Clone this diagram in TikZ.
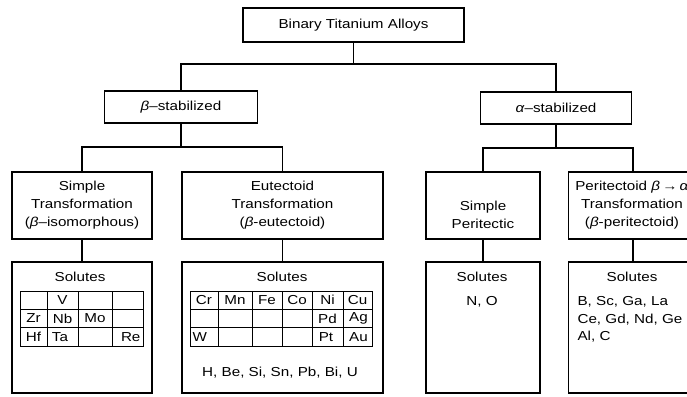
\documentclass[tikz,border=0pt]{standalone}
\usepackage{fontspec}
\setmainfont[FakeStretch=1.17]{Liberation Sans}
\begin{document}
\begin{tikzpicture}[x=1pt,y=-1pt,
  font=\fontsize{13}{18}\selectfont,
  line width=1.1pt,
  box/.style={draw, rectangle, inner sep=0pt, outer sep=0pt},
  lbl/.style={inner sep=0pt, align=center},
  cell/.style={inner sep=0pt, font=\fontsize{13}{15}\selectfont}]
\useasboundingbox (0,0) rectangle (687,396);
\clip (0,0) rectangle (687,396);
% level 0
\node[box, minimum width=221pt, minimum height=34pt] (top) at (353.5,25) {Binary Titanium Alloys};
% level 1
\node[box, minimum width=153pt, minimum height=32pt] (beta) at (181,107) {\textit{β}–stabilized};
\node[box, minimum width=151pt, minimum height=32pt] (alpha) at (556,108) {\textit{α}–stabilized};
% level 2
\node[box, minimum width=140pt, minimum height=67pt] (st) at (82,205.5) {};
\node[box, minimum width=201pt, minimum height=67pt] (eu) at (282.5,205.5) {};
\node[box, minimum width=114pt, minimum height=67pt] (sp) at (483,205.5) {};
\node[box, minimum width=129pt, minimum height=67pt] (pt) at (633,205.5) {};
\node[lbl] (sttext) at (st.center) {Simple\\Transformation\\(\textit{β}–isomorphous)};
\node[lbl] (eutext) at (eu.center) {Eutectoid\\Transformation\\(\textit{β}-eutectoid)};
\node[lbl] (sptext) at ([yshift=-9pt]sp.center) {Simple\\Peritectic};
\node[lbl] (pttext) at ([xshift=-1pt]pt.center) {Peritectoid \textit{β}\,→\,\textit{α}\\Transformation\\(\textit{β}-peritectoid)};
% solutes boxes
\node[box, minimum width=140pt, minimum height=131pt] (sts) at (82,327.5) {};
\node[box, minimum width=201pt, minimum height=131pt] (eus) at (282.5,327.5) {};
\node[box, minimum width=114pt, minimum height=131pt] (sps) at (483,327.5) {};
\node[box, minimum width=129pt, minimum height=131pt] (pts) at (633,327.5) {};
\node[lbl] (stsl) at (80,277) {Solutes};
\node[lbl] (eusl) at (282,277) {Solutes};
\node[lbl] (spsl) at (482,277) {Solutes};
\node[lbl] (ptsl) at (632,277) {Solutes};
\node[lbl] (spno) at (482,302) {N, O};
\node[lbl, anchor=west] (ptl1) at (577,302) {B, Sc, Ga, La};
\node[lbl, anchor=west] (ptl2) at (577,320) {Ce, Gd, Nd, Ge};
\node[lbl, anchor=west] (ptl3) at (577,337) {Al, C};
\node[lbl] (eulist) at (280,373) {H, Be, Si, Sn, Pb, Bi, U};
% connectors
\draw (top.south) -- ++(0,22);
\draw (beta.north) -- ++(0,-27) -| (alpha.north);
\draw (beta.south) -- ++(0,24);
\draw (st.north) -- ++(0,-25) -| (eu.north);
\draw (alpha.south) -- ++(0,24);
\draw (sp.north) -- ++(0,-24) -| (pt.north);
\draw (st.south) -- (sts.north);
\draw (eu.south) -- (eus.north);
\draw (sp.south) -- (sps.north);
\draw (pt.south) -- (pts.north);
% table 1 (simple transformation)
\draw[line width=0.9pt] (20,291) rectangle (143,346);
\foreach \yy in {309.3,327.7} \draw[line width=0.9pt] (20,\yy) -- (143,\yy);
\foreach \xx in {47,78,112} \draw[line width=0.9pt] (\xx,291) -- (\xx,346);
\node[cell] (tV) at (62.5,300) {V};
\node[cell] (tZr) at (33.5,318.5) {Zr};
\node[cell] (tNb) at (62.5,318.5) {Nb};
\node[cell] (tMo) at (95,318.5) {Mo};
\node[cell] (tHf) at (33.5,337) {Hf};
\node[cell] (tTa) at (60,337) {Ta};
\node[cell, anchor=east] (tRe) at (141,337) {Re};
% table 2 (eutectoid)
\draw[line width=0.9pt] (190,291) rectangle (372,346);
\foreach \yy in {309.3,327.7} \draw[line width=0.9pt] (190,\yy) -- (372,\yy);
\foreach \xx in {218,252,282,312,343} \draw[line width=0.9pt] (\xx,291) -- (\xx,346);
\node[cell] (eCr) at (204,300) {Cr};
\node[cell] (eMn) at (235,300) {Mn};
\node[cell] (eFe) at (267,300) {Fe};
\node[cell] (eCo) at (297,300) {Co};
\node[cell] (eNi) at (327.5,300) {Ni};
\node[cell] (eCu) at (357.5,300) {Cu};
\node[cell] (ePd) at (327.5,318.5) {Pd};
\node[cell] (eAg) at (358.5,318.5) {Ag};
\node[cell, anchor=west] (eW) at (192,337) {W};
\node[cell] (ePt) at (326,337) {Pt};
\node[cell] (eAu) at (358.5,337) {Au};
\end{tikzpicture}
\end{document}
